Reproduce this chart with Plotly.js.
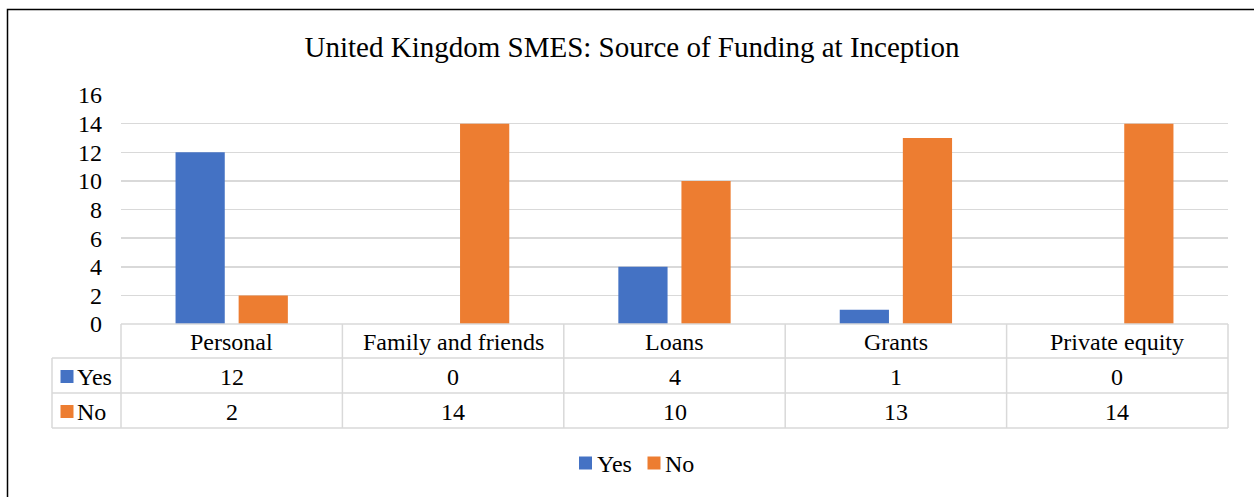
<!DOCTYPE html>
<html><head><meta charset="utf-8">
<script src="https://cdn.plot.ly/plotly-3.0.1.min.js"></script>
<style>html,body{margin:0;padding:0;background:#fff}#chart{width:1254px;height:497px}</style>
</head><body><div id="chart"></div>
<script>
const categories = ["Personal", "Family and friends", "Loans", "Grants", "Private equity"];
const seriesNames = ["Yes", "No"];
const yesValues = [12, 0, 4, 1, 0];
const noValues = [2, 14, 10, 13, 14];
const yTicks = [0, 2, 4, 6, 8, 10, 12, 14, 16];
const colors = ["#4472C4", "#ED7D31"];

const W = 1254, H = 497;
const L = 121, R = 1228, T = 95, B = 324;
const px = x => (x - L) / (R - L);
const py = y => (B - y) / (B - T);
const font = "Liberation Serif, Times New Roman, serif";
const grid = "#d9d9d9";
const FS = 24;

const rows = [324, 358, 393, 428];
const nC = categories.length;
const colX = k => L + k * (R - L) / nC;

const shapes = [];
const annotations = [];
function line(x0, y0, x1, y1, color, w) {
  shapes.push({type: "line", xref: "paper", yref: "paper", x0: px(x0), y0: py(y0), x1: px(x1), y1: py(y1), line: {color: color, width: w}});
}
function square(cx, cy, color) {
  shapes.push({type: "rect", xref: "paper", yref: "paper", x0: px(cx - 6.5), x1: px(cx + 6.5), y0: py(cy - 6.5), y1: py(cy + 6.5), line: {width: 0}, fillcolor: color});
}
function label(x, y, text, anchor) {
  annotations.push({xref: "paper", yref: "paper", x: px(x), y: py(y), text: text, showarrow: false, xanchor: anchor, yanchor: "middle", font: {family: font, size: FS, color: "#000"}});
}
// table horizontal lines
line(L, rows[0], R, rows[0], grid, 1.5);
for (let i = 1; i < rows.length; i++) line(52, rows[i], R, rows[i], grid, 1.5);
// vertical lines
line(52, rows[1], 52, rows[3], grid, 1.5);
for (let k = 0; k <= nC; k++) line(colX(k), rows[0], colX(k), rows[3], grid, 1.5);
// outer border
shapes.push({type: "rect", xref: "paper", yref: "paper", x0: px(7.5), y0: py(9.5), x1: px(1270), y1: py(510), line: {color: "#000", width: 1.5}});

const rowVals = [yesValues, noValues];
categories.forEach((c, k) => {
  const cx = (colX(k) + colX(k + 1)) / 2;
  label(cx, (rows[0] + rows[1]) / 2 + 1, c, "center");
  rowVals.forEach((vals, r) => {
    label(cx, (rows[r + 1] + rows[r + 2]) / 2 + 1, String(vals[k]), "center");
  });
});
seriesNames.forEach((n, r) => {
  const yc = (rows[r + 1] + rows[r + 2]) / 2;
  square(67, yc + 1, colors[r]);
  label(75, yc + 1, n, "left");
});
// bottom legend (drawn to match Excel spacing)
const legY = 463;
square(585.5, legY, colors[0]);
label(595, legY + 1, seriesNames[0], "left");
square(654, legY, colors[1]);
label(663, legY + 1, seriesNames[1], "left");

const traces = [
  {type: "bar", name: seriesNames[0], x: categories, y: yesValues, marker: {color: colors[0]}, hoverinfo: "skip"},
  {type: "bar", name: seriesNames[1], x: categories, y: noValues, marker: {color: colors[1]}, hoverinfo: "skip"}
];

const layout = {
  width: W, height: H,
  margin: {l: L, r: W - R, t: T, b: H - B, pad: 0},
  paper_bgcolor: "#fff", plot_bgcolor: "#fff",
  font: {family: font, size: FS, color: "#000"},
  title: {text: "United Kingdom SMES: Source of Funding at Inception", font: {family: font, size: 29, color: "#000"}, xref: "container", yref: "container", x: 632 / W, y: 1 - 47 / H, xanchor: "center", yanchor: "middle"},
  barmode: "group", bargap: 0.43, bargroupgap: 0.22,
  xaxis: {type: "category", showticklabels: false, showgrid: false, zeroline: false, showline: false, ticks: ""},
  yaxis: {range: [0, 16], tickvals: yTicks, ticktext: yTicks.map(String), showgrid: true, gridcolor: grid, gridwidth: 1.5, zeroline: false, showline: false, ticks: "", ticklabelstandoff: 18, tickfont: {family: font, size: FS, color: "#000"}},
  showlegend: false,
  shapes: shapes, annotations: annotations
};
Plotly.newPlot("chart", traces, layout, {displayModeBar: false, staticPlot: true});
</script></body></html>
